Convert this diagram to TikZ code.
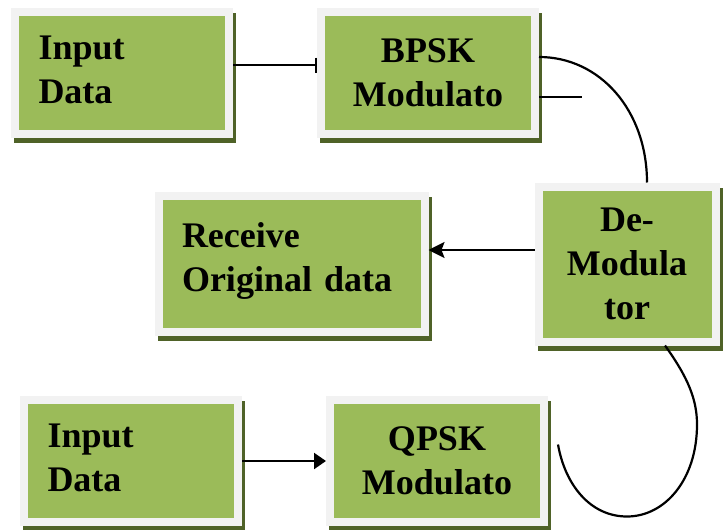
\documentclass[tikz,border=0pt]{standalone}
\usepackage{fontspec}
\setmainfont{Liberation Serif}
\usepackage{tikz}
\usetikzlibrary{arrows.meta, positioning, shadows}
\usepackage{xcolor}
\definecolor{boxgreen}{RGB}{155,187,89}
\definecolor{framegray}{RGB}{242,242,242}
\definecolor{olivedark}{RGB}{79,98,40}

\begin{document}
\begin{tikzpicture}[
    x=1pt, y=-1pt,
    stage/.style={rectangle, fill=boxgreen, draw=framegray, line width=8pt,
                  minimum width=214pt, minimum height=122pt, inner xsep=23.5pt,
                  align=center, font=\bfseries\fontsize{36}{44}\selectfont,
                  drop shadow={shadow xshift=3pt, shadow yshift=-5pt,
                               fill=olivedark, draw=olivedark, opacity=1}},
    lstage/.style={stage, align=left, text width=#1},
    lstage/.default=167pt,
    link/.style={line width=2.2pt, black},
    arr/.style={link, -{Stealth[length=16pt, width=16pt, inset=3pt]}},
]
    \useasboundingbox (0,0) rectangle (726,530);

    % Row 1: BPSK chain
    \node[lstage] (input1) at (122,73) {Input\\Data\rule[-6pt]{0pt}{0pt}};
    \node[stage, right=84pt of input1] (bpsk) {BPSK\\Modulato};

    % Row 2: receiver side
    \node[stage, minimum width=177pt, minimum height=155pt] (demod) at (627,264) {De-\\Modula\\tor};
    \node[lstage=219pt, minimum height=136pt, left=106pt of demod] (recv) {Receive\\Original data\rule[-14pt]{0pt}{0pt}};

    % Row 3: QPSK chain
    \node[lstage] (input2) at (131,461) {Input\\Data\rule[-6pt]{0pt}{0pt}};
    \node[stage, right=84pt of input2] (qpsk) {QPSK\\Modulato};

    % Connections
    \draw[link, -{Bar[width=15pt]}] ([yshift=8pt]input1.east) -- ([yshift=8pt]bpsk.west);
    \draw[link] ([yshift=16pt]bpsk.east) .. controls +(61,0) and +(0,-72) .. ([xshift=20pt]demod.north);
    \draw[link] ([yshift=-24pt]bpsk.east) -- ++(43,0) coordinate (bpskstub);
    \draw[arr] ([yshift=14pt]demod.west) -- ([yshift=14pt]recv.east);
    \draw[link, -{Triangle[length=12pt, width=16pt]}] (input2.east) -- (qpsk.west);

    % Loop under the demodulator
    \draw[link] ([xshift=38pt]demod.south)
        .. controls +(23,32) and +(0,-25) .. ++(32,79)
        .. controls +(0,55) and +(38,0) .. ++(-70,92)
        .. controls +(-37,0) and +(7,40) .. ++(-69,-72) coordinate (loopend);
\end{tikzpicture}
\end{document}
